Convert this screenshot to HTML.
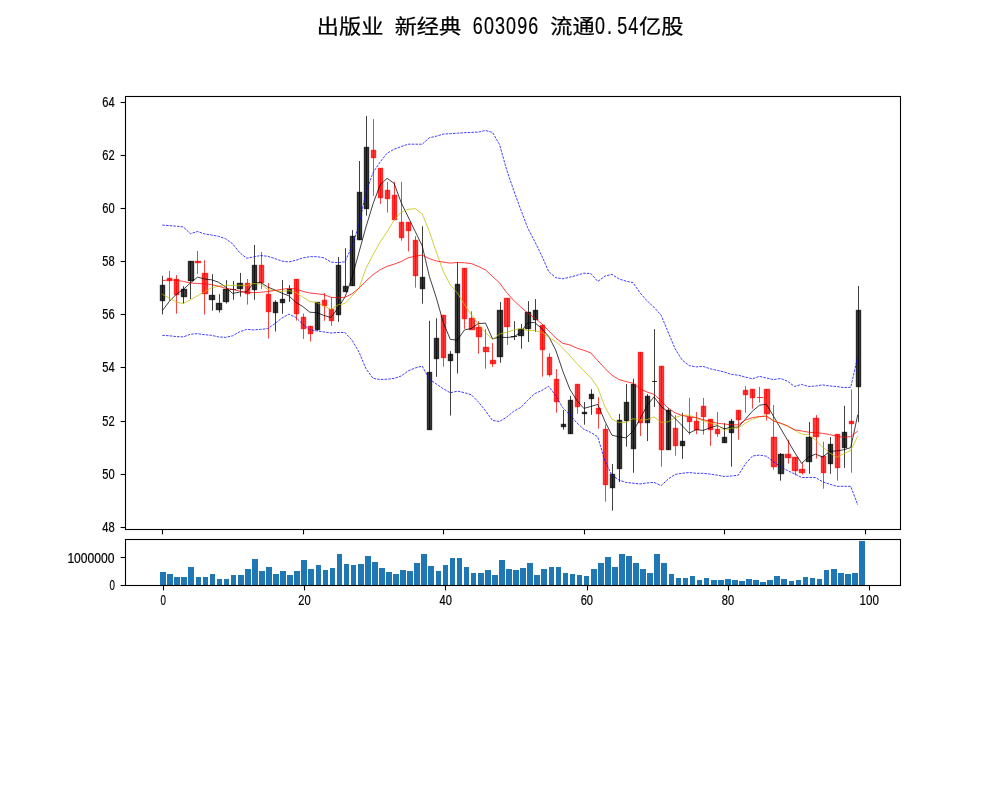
<!DOCTYPE html>
<html lang="zh"><head><meta charset="utf-8"><title>出版业 新经典 603096</title>
<style>html,body{margin:0;padding:0;background:#fff;}svg{display:block;}text{font-family:"Liberation Sans", "Noto Sans CJK SC", sans-serif;fill:#000;}</style>
</head><body>
<svg width="1000" height="800" viewBox="0 0 1000 800">
<rect x="0" y="0" width="1000" height="800" fill="#ffffff"/>
<g id="title">
<text transform="translate(316.87,34.20) scale(1,0.9)" x="0.00 22.22 44.44" y="0" font-size="22.22px" stroke="#000" stroke-width="0.25">出版业</text>
<text transform="translate(394.65,34.20) scale(1,0.9)" x="0.00 22.22 44.44" y="0" font-size="22.22px" stroke="#000" stroke-width="0.25">新经典</text>
<text transform="translate(472.22,33.50) scale(0.78,1)" x="0.73 14.97 29.22 43.46 57.71 71.95" y="0" font-size="23.0px" stroke="#000" stroke-width="0.2">603096</text>
<text transform="translate(550.20,34.20) scale(1,0.9)" x="0.00 22.22" y="0" font-size="22.22px" stroke="#000" stroke-width="0.25">流通</text>
<text transform="translate(594.44,33.50) scale(0.78,1)" x="0.73 16.17 29.22 43.46" y="0" font-size="23.0px" stroke="#000" stroke-width="0.2">0.54</text>
<text transform="translate(639.09,34.20) scale(1,0.9)" x="0.00 22.22" y="0" font-size="22.22px" stroke="#000" stroke-width="0.25">亿股</text>
</g>
<g id="bodies" stroke-width="1.39">
<rect x="160.5" y="285.5" width="4" height="15" fill="#000000" fill-opacity="0.75" stroke="#000000" stroke-opacity="0.75"/>
<rect x="167.5" y="278.5" width="4" height="2" fill="#ff0000" fill-opacity="0.75" stroke="#ff0000" stroke-opacity="0.75"/>
<rect x="174.5" y="279.5" width="4" height="15" fill="#ff0000" fill-opacity="0.75" stroke="#ff0000" stroke-opacity="0.75"/>
<rect x="181.5" y="289.5" width="5" height="7" fill="#000000" fill-opacity="0.75" stroke="#000000" stroke-opacity="0.75"/>
<rect x="188.5" y="261.5" width="5" height="19" fill="#000000" fill-opacity="0.75" stroke="#000000" stroke-opacity="0.75"/>
<rect x="195.5" y="261.5" width="5" height="1" fill="#ff0000" fill-opacity="0.75" stroke="#ff0000" stroke-opacity="0.75"/>
<rect x="202.5" y="273.5" width="5" height="20" fill="#ff0000" fill-opacity="0.75" stroke="#ff0000" stroke-opacity="0.75"/>
<rect x="209.5" y="295.5" width="5" height="4" fill="#000000" fill-opacity="0.75" stroke="#000000" stroke-opacity="0.75"/>
<rect x="216.5" y="303.5" width="5" height="6" fill="#000000" fill-opacity="0.75" stroke="#000000" stroke-opacity="0.75"/>
<rect x="223.5" y="289.5" width="5" height="12" fill="#000000" fill-opacity="0.75" stroke="#000000" stroke-opacity="0.75"/>
<line x1="230" y1="289.5" x2="236" y2="289.5" stroke="#000000" stroke-width="1" stroke-opacity="0.8"/>
<rect x="237.5" y="283.5" width="5" height="5" fill="#000000" fill-opacity="0.75" stroke="#000000" stroke-opacity="0.75"/>
<rect x="245.5" y="283.5" width="4" height="10" fill="#ff0000" fill-opacity="0.75" stroke="#ff0000" stroke-opacity="0.75"/>
<rect x="252.5" y="265.5" width="4" height="24" fill="#000000" fill-opacity="0.75" stroke="#000000" stroke-opacity="0.75"/>
<rect x="259.5" y="265.5" width="4" height="17" fill="#ff0000" fill-opacity="0.75" stroke="#ff0000" stroke-opacity="0.75"/>
<rect x="266.5" y="294.5" width="4" height="17" fill="#ff0000" fill-opacity="0.75" stroke="#ff0000" stroke-opacity="0.75"/>
<rect x="273.5" y="302.5" width="4" height="10" fill="#000000" fill-opacity="0.75" stroke="#000000" stroke-opacity="0.75"/>
<rect x="280.5" y="299.5" width="4" height="3" fill="#000000" fill-opacity="0.75" stroke="#000000" stroke-opacity="0.75"/>
<rect x="287.5" y="289.5" width="4" height="4" fill="#000000" fill-opacity="0.75" stroke="#000000" stroke-opacity="0.75"/>
<rect x="294.5" y="279.5" width="4" height="34" fill="#ff0000" fill-opacity="0.75" stroke="#ff0000" stroke-opacity="0.75"/>
<rect x="301.5" y="317.5" width="4" height="11" fill="#ff0000" fill-opacity="0.75" stroke="#ff0000" stroke-opacity="0.75"/>
<rect x="308.5" y="326.5" width="4" height="7" fill="#ff0000" fill-opacity="0.75" stroke="#ff0000" stroke-opacity="0.75"/>
<rect x="315.5" y="302.5" width="4" height="27" fill="#000000" fill-opacity="0.75" stroke="#000000" stroke-opacity="0.75"/>
<rect x="322.5" y="300.5" width="4" height="5" fill="#ff0000" fill-opacity="0.75" stroke="#ff0000" stroke-opacity="0.75"/>
<rect x="329.5" y="309.5" width="4" height="11" fill="#ff0000" fill-opacity="0.75" stroke="#ff0000" stroke-opacity="0.75"/>
<rect x="336.5" y="265.5" width="4" height="49" fill="#000000" fill-opacity="0.75" stroke="#000000" stroke-opacity="0.75"/>
<rect x="343.5" y="286.5" width="4" height="5" fill="#000000" fill-opacity="0.75" stroke="#000000" stroke-opacity="0.75"/>
<rect x="350.5" y="236.5" width="4" height="49" fill="#000000" fill-opacity="0.75" stroke="#000000" stroke-opacity="0.75"/>
<rect x="357.5" y="192.5" width="4" height="47" fill="#000000" fill-opacity="0.75" stroke="#000000" stroke-opacity="0.75"/>
<rect x="364.5" y="147.5" width="4" height="61" fill="#000000" fill-opacity="0.75" stroke="#000000" stroke-opacity="0.75"/>
<rect x="371.5" y="150.5" width="4" height="7" fill="#ff0000" fill-opacity="0.75" stroke="#ff0000" stroke-opacity="0.75"/>
<rect x="378.5" y="168.5" width="4" height="29" fill="#ff0000" fill-opacity="0.75" stroke="#ff0000" stroke-opacity="0.75"/>
<rect x="385.5" y="190.5" width="4" height="8" fill="#ff0000" fill-opacity="0.75" stroke="#ff0000" stroke-opacity="0.75"/>
<rect x="392.5" y="195.5" width="4" height="24" fill="#ff0000" fill-opacity="0.75" stroke="#ff0000" stroke-opacity="0.75"/>
<rect x="399.5" y="222.5" width="4" height="15" fill="#ff0000" fill-opacity="0.75" stroke="#ff0000" stroke-opacity="0.75"/>
<rect x="406.5" y="222.5" width="4" height="8" fill="#ff0000" fill-opacity="0.75" stroke="#ff0000" stroke-opacity="0.75"/>
<rect x="413.5" y="240.5" width="4" height="35" fill="#ff0000" fill-opacity="0.75" stroke="#ff0000" stroke-opacity="0.75"/>
<rect x="420.5" y="277.5" width="4" height="11" fill="#000000" fill-opacity="0.75" stroke="#000000" stroke-opacity="0.75"/>
<rect x="427.5" y="372.5" width="4" height="57" fill="#000000" fill-opacity="0.75" stroke="#000000" stroke-opacity="0.75"/>
<rect x="434.5" y="338.5" width="4" height="20" fill="#000000" fill-opacity="0.75" stroke="#000000" stroke-opacity="0.75"/>
<rect x="441.5" y="315.5" width="4" height="42" fill="#ff0000" fill-opacity="0.75" stroke="#ff0000" stroke-opacity="0.75"/>
<rect x="448.5" y="354.5" width="4" height="6" fill="#000000" fill-opacity="0.75" stroke="#000000" stroke-opacity="0.75"/>
<rect x="455.5" y="284.5" width="4" height="68" fill="#000000" fill-opacity="0.75" stroke="#000000" stroke-opacity="0.75"/>
<rect x="462.5" y="268.5" width="4" height="50" fill="#ff0000" fill-opacity="0.75" stroke="#ff0000" stroke-opacity="0.75"/>
<rect x="469.5" y="318.5" width="5" height="11" fill="#ff0000" fill-opacity="0.75" stroke="#ff0000" stroke-opacity="0.75"/>
<rect x="476.5" y="327.5" width="5" height="9" fill="#ff0000" fill-opacity="0.75" stroke="#ff0000" stroke-opacity="0.75"/>
<rect x="483.5" y="347.5" width="5" height="4" fill="#ff0000" fill-opacity="0.75" stroke="#ff0000" stroke-opacity="0.75"/>
<rect x="490.5" y="360.5" width="5" height="3" fill="#ff0000" fill-opacity="0.75" stroke="#ff0000" stroke-opacity="0.75"/>
<rect x="497.5" y="310.5" width="5" height="46" fill="#000000" fill-opacity="0.75" stroke="#000000" stroke-opacity="0.75"/>
<rect x="504.5" y="298.5" width="5" height="28" fill="#ff0000" fill-opacity="0.75" stroke="#ff0000" stroke-opacity="0.75"/>
<line x1="511" y1="336.5" x2="517" y2="336.5" stroke="#000000" stroke-width="1" stroke-opacity="0.8"/>
<rect x="518.5" y="329.5" width="5" height="6" fill="#000000" fill-opacity="0.75" stroke="#000000" stroke-opacity="0.75"/>
<rect x="525.5" y="312.5" width="5" height="16" fill="#000000" fill-opacity="0.75" stroke="#000000" stroke-opacity="0.75"/>
<rect x="533.5" y="310.5" width="4" height="9" fill="#000000" fill-opacity="0.75" stroke="#000000" stroke-opacity="0.75"/>
<rect x="540.5" y="325.5" width="4" height="24" fill="#ff0000" fill-opacity="0.75" stroke="#ff0000" stroke-opacity="0.75"/>
<rect x="547.5" y="357.5" width="4" height="17" fill="#ff0000" fill-opacity="0.75" stroke="#ff0000" stroke-opacity="0.75"/>
<rect x="554.5" y="379.5" width="4" height="22" fill="#ff0000" fill-opacity="0.75" stroke="#ff0000" stroke-opacity="0.75"/>
<rect x="561.5" y="424.5" width="4" height="2" fill="#000000" fill-opacity="0.75" stroke="#000000" stroke-opacity="0.75"/>
<rect x="568.5" y="400.5" width="4" height="33" fill="#000000" fill-opacity="0.75" stroke="#000000" stroke-opacity="0.75"/>
<rect x="575.5" y="384.5" width="4" height="22" fill="#ff0000" fill-opacity="0.75" stroke="#ff0000" stroke-opacity="0.75"/>
<rect x="582.5" y="412.5" width="4" height="1" fill="#000000" fill-opacity="0.75" stroke="#000000" stroke-opacity="0.75"/>
<rect x="589.5" y="394.5" width="4" height="4" fill="#000000" fill-opacity="0.75" stroke="#000000" stroke-opacity="0.75"/>
<rect x="596.5" y="408.5" width="4" height="5" fill="#ff0000" fill-opacity="0.75" stroke="#ff0000" stroke-opacity="0.75"/>
<rect x="603.5" y="429.5" width="4" height="55" fill="#ff0000" fill-opacity="0.75" stroke="#ff0000" stroke-opacity="0.75"/>
<rect x="610.5" y="474.5" width="4" height="13" fill="#000000" fill-opacity="0.75" stroke="#000000" stroke-opacity="0.75"/>
<rect x="617.5" y="420.5" width="4" height="48" fill="#000000" fill-opacity="0.75" stroke="#000000" stroke-opacity="0.75"/>
<rect x="624.5" y="402.5" width="4" height="18" fill="#000000" fill-opacity="0.75" stroke="#000000" stroke-opacity="0.75"/>
<rect x="631.5" y="384.5" width="4" height="64" fill="#000000" fill-opacity="0.75" stroke="#000000" stroke-opacity="0.75"/>
<rect x="638.5" y="352.5" width="4" height="70" fill="#ff0000" fill-opacity="0.75" stroke="#ff0000" stroke-opacity="0.75"/>
<rect x="645.5" y="396.5" width="4" height="26" fill="#000000" fill-opacity="0.75" stroke="#000000" stroke-opacity="0.75"/>
<line x1="652" y1="381.5" x2="657" y2="381.5" stroke="#000000" stroke-width="1" stroke-opacity="0.8"/>
<rect x="659.5" y="366.5" width="4" height="83" fill="#ff0000" fill-opacity="0.75" stroke="#ff0000" stroke-opacity="0.75"/>
<rect x="666.5" y="410.5" width="4" height="39" fill="#000000" fill-opacity="0.75" stroke="#000000" stroke-opacity="0.75"/>
<rect x="673.5" y="428.5" width="4" height="17" fill="#ff0000" fill-opacity="0.75" stroke="#ff0000" stroke-opacity="0.75"/>
<rect x="680.5" y="441.5" width="4" height="4" fill="#000000" fill-opacity="0.75" stroke="#000000" stroke-opacity="0.75"/>
<rect x="687.5" y="417.5" width="4" height="4" fill="#ff0000" fill-opacity="0.75" stroke="#ff0000" stroke-opacity="0.75"/>
<rect x="694.5" y="421.5" width="4" height="8" fill="#ff0000" fill-opacity="0.75" stroke="#ff0000" stroke-opacity="0.75"/>
<rect x="701.5" y="406.5" width="4" height="10" fill="#ff0000" fill-opacity="0.75" stroke="#ff0000" stroke-opacity="0.75"/>
<rect x="708.5" y="419.5" width="4" height="10" fill="#ff0000" fill-opacity="0.75" stroke="#ff0000" stroke-opacity="0.75"/>
<rect x="715.5" y="429.5" width="4" height="4" fill="#ff0000" fill-opacity="0.75" stroke="#ff0000" stroke-opacity="0.75"/>
<rect x="722.5" y="437.5" width="4" height="5" fill="#000000" fill-opacity="0.75" stroke="#000000" stroke-opacity="0.75"/>
<rect x="729.5" y="421.5" width="4" height="11" fill="#000000" fill-opacity="0.75" stroke="#000000" stroke-opacity="0.75"/>
<rect x="736.5" y="410.5" width="4" height="9" fill="#ff0000" fill-opacity="0.75" stroke="#ff0000" stroke-opacity="0.75"/>
<rect x="743.5" y="390.5" width="4" height="4" fill="#ff0000" fill-opacity="0.75" stroke="#ff0000" stroke-opacity="0.75"/>
<rect x="750.5" y="389.5" width="4" height="8" fill="#ff0000" fill-opacity="0.75" stroke="#ff0000" stroke-opacity="0.75"/>
<line x1="757" y1="397.5" x2="763" y2="397.5" stroke="#ff0000" stroke-width="1" stroke-opacity="0.8"/>
<rect x="764.5" y="389.5" width="5" height="24" fill="#ff0000" fill-opacity="0.75" stroke="#ff0000" stroke-opacity="0.75"/>
<rect x="771.5" y="437.5" width="5" height="29" fill="#ff0000" fill-opacity="0.75" stroke="#ff0000" stroke-opacity="0.75"/>
<rect x="778.5" y="454.5" width="5" height="19" fill="#000000" fill-opacity="0.75" stroke="#000000" stroke-opacity="0.75"/>
<rect x="785.5" y="454.5" width="5" height="3" fill="#ff0000" fill-opacity="0.75" stroke="#ff0000" stroke-opacity="0.75"/>
<rect x="792.5" y="457.5" width="5" height="13" fill="#ff0000" fill-opacity="0.75" stroke="#ff0000" stroke-opacity="0.75"/>
<rect x="799.5" y="469.5" width="5" height="3" fill="#ff0000" fill-opacity="0.75" stroke="#ff0000" stroke-opacity="0.75"/>
<rect x="806.5" y="437.5" width="5" height="24" fill="#000000" fill-opacity="0.75" stroke="#000000" stroke-opacity="0.75"/>
<rect x="813.5" y="418.5" width="5" height="18" fill="#ff0000" fill-opacity="0.75" stroke="#ff0000" stroke-opacity="0.75"/>
<rect x="821.5" y="456.5" width="4" height="16" fill="#ff0000" fill-opacity="0.75" stroke="#ff0000" stroke-opacity="0.75"/>
<rect x="828.5" y="444.5" width="4" height="19" fill="#000000" fill-opacity="0.75" stroke="#000000" stroke-opacity="0.75"/>
<rect x="835.5" y="434.5" width="4" height="33" fill="#ff0000" fill-opacity="0.75" stroke="#ff0000" stroke-opacity="0.75"/>
<rect x="842.5" y="432.5" width="4" height="15" fill="#000000" fill-opacity="0.75" stroke="#000000" stroke-opacity="0.75"/>
<rect x="849.5" y="421.5" width="4" height="2" fill="#ff0000" fill-opacity="0.75" stroke="#ff0000" stroke-opacity="0.75"/>
<rect x="856.5" y="310.5" width="4" height="76" fill="#000000" fill-opacity="0.75" stroke="#000000" stroke-opacity="0.75"/>
</g>
<g id="wicks" stroke-width="0.75" fill="none">
<line x1="162.5" y1="275.8" x2="162.5" y2="314.5" stroke="#000"/>
<line x1="169.5" y1="271.0" x2="169.5" y2="300.9" stroke="#f00"/>
<line x1="176.5" y1="275.0" x2="176.5" y2="313.7" stroke="#f00"/>
<line x1="183.5" y1="286.2" x2="183.5" y2="303.5" stroke="#000"/>
<line x1="190.5" y1="261.1" x2="190.5" y2="299.0" stroke="#000"/>
<line x1="197.5" y1="251.0" x2="197.5" y2="273.9" stroke="#f00"/>
<line x1="204.5" y1="260.1" x2="204.5" y2="314.5" stroke="#f00"/>
<line x1="212.5" y1="274.2" x2="212.5" y2="310.7" stroke="#000"/>
<line x1="219.5" y1="294.2" x2="219.5" y2="312.6" stroke="#000"/>
<line x1="226.5" y1="280.1" x2="226.5" y2="303.5" stroke="#000"/>
<line x1="233.5" y1="280.9" x2="233.5" y2="299.8" stroke="#000"/>
<line x1="240.5" y1="272.9" x2="240.5" y2="296.6" stroke="#000"/>
<line x1="247.5" y1="279.0" x2="247.5" y2="304.6" stroke="#f00"/>
<line x1="254.5" y1="244.9" x2="254.5" y2="299.8" stroke="#000"/>
<line x1="261.5" y1="252.1" x2="261.5" y2="288.9" stroke="#f00"/>
<line x1="268.5" y1="283.0" x2="268.5" y2="338.5" stroke="#f00"/>
<line x1="275.5" y1="300.3" x2="275.5" y2="331.5" stroke="#000"/>
<line x1="282.5" y1="280.1" x2="282.5" y2="313.7" stroke="#000"/>
<line x1="289.5" y1="285.1" x2="289.5" y2="301.9" stroke="#000"/>
<line x1="296.5" y1="279.0" x2="296.5" y2="320.6" stroke="#f00"/>
<line x1="303.5" y1="313.5" x2="303.5" y2="338.9" stroke="#f00"/>
<line x1="310.5" y1="325.8" x2="310.5" y2="341.5" stroke="#f00"/>
<line x1="317.5" y1="302.3" x2="317.5" y2="330.6" stroke="#000"/>
<line x1="324.5" y1="293.0" x2="324.5" y2="320.7" stroke="#f00"/>
<line x1="331.5" y1="297.3" x2="331.5" y2="325.8" stroke="#f00"/>
<line x1="338.5" y1="257.0" x2="338.5" y2="321.8" stroke="#000"/>
<line x1="345.5" y1="248.2" x2="345.5" y2="291.4" stroke="#000"/>
<line x1="352.5" y1="230.1" x2="352.5" y2="285.8" stroke="#000"/>
<line x1="359.5" y1="161.0" x2="359.5" y2="240.2" stroke="#000"/>
<line x1="366.5" y1="115.9" x2="366.5" y2="215.7" stroke="#000"/>
<line x1="373.5" y1="119.1" x2="373.5" y2="195.9" stroke="#f00"/>
<line x1="380.5" y1="168.2" x2="380.5" y2="203.9" stroke="#f00"/>
<line x1="387.5" y1="181.8" x2="387.5" y2="212.5" stroke="#f00"/>
<line x1="394.5" y1="181.8" x2="394.5" y2="220.2" stroke="#f00"/>
<line x1="401.5" y1="181.8" x2="401.5" y2="240.7" stroke="#f00"/>
<line x1="408.5" y1="222.1" x2="408.5" y2="251.4" stroke="#f00"/>
<line x1="415.5" y1="236.2" x2="415.5" y2="287.7" stroke="#f00"/>
<line x1="422.5" y1="226.3" x2="422.5" y2="303.7" stroke="#000"/>
<line x1="429.5" y1="320.8" x2="429.5" y2="429.6" stroke="#000"/>
<line x1="436.5" y1="318.3" x2="436.5" y2="376.8" stroke="#000"/>
<line x1="443.5" y1="315.4" x2="443.5" y2="366.7" stroke="#f00"/>
<line x1="450.5" y1="351.1" x2="450.5" y2="415.6" stroke="#000"/>
<line x1="457.5" y1="262.0" x2="457.5" y2="373.5" stroke="#000"/>
<line x1="464.5" y1="268.1" x2="464.5" y2="328.9" stroke="#f00"/>
<line x1="471.5" y1="311.3" x2="471.5" y2="330.0" stroke="#f00"/>
<line x1="478.5" y1="321.2" x2="478.5" y2="353.7" stroke="#f00"/>
<line x1="485.5" y1="329.2" x2="485.5" y2="368.7" stroke="#f00"/>
<line x1="492.5" y1="343.1" x2="492.5" y2="366.8" stroke="#f00"/>
<line x1="500.5" y1="302.0" x2="500.5" y2="362.8" stroke="#000"/>
<line x1="507.5" y1="298.0" x2="507.5" y2="344.9" stroke="#f00"/>
<line x1="514.5" y1="321.2" x2="514.5" y2="340.1" stroke="#000"/>
<line x1="521.5" y1="324.1" x2="521.5" y2="348.7" stroke="#000"/>
<line x1="528.5" y1="301.2" x2="528.5" y2="342.0" stroke="#000"/>
<line x1="535.5" y1="299.1" x2="535.5" y2="331.9" stroke="#000"/>
<line x1="542.5" y1="324.4" x2="542.5" y2="376.7" stroke="#f00"/>
<line x1="549.5" y1="353.2" x2="549.5" y2="376.7" stroke="#f00"/>
<line x1="556.5" y1="369.2" x2="556.5" y2="412.7" stroke="#f00"/>
<line x1="563.5" y1="410.0" x2="563.5" y2="429.7" stroke="#000"/>
<line x1="570.5" y1="395.9" x2="570.5" y2="433.7" stroke="#000"/>
<line x1="577.5" y1="384.1" x2="577.5" y2="413.7" stroke="#f00"/>
<line x1="584.5" y1="402.0" x2="584.5" y2="424.7" stroke="#000"/>
<line x1="591.5" y1="389.2" x2="591.5" y2="414.8" stroke="#000"/>
<line x1="598.5" y1="397.2" x2="598.5" y2="428.7" stroke="#f00"/>
<line x1="605.5" y1="424.5" x2="605.5" y2="501.6" stroke="#f00"/>
<line x1="612.5" y1="464.0" x2="612.5" y2="510.7" stroke="#000"/>
<line x1="619.5" y1="413.9" x2="619.5" y2="482.1" stroke="#000"/>
<line x1="626.5" y1="384.0" x2="626.5" y2="446.7" stroke="#000"/>
<line x1="633.5" y1="378.7" x2="633.5" y2="472.8" stroke="#000"/>
<line x1="640.5" y1="352.0" x2="640.5" y2="436.0" stroke="#f00"/>
<line x1="647.5" y1="394.1" x2="647.5" y2="441.1" stroke="#000"/>
<line x1="654.5" y1="329.1" x2="654.5" y2="406.9" stroke="#000"/>
<line x1="661.5" y1="365.9" x2="661.5" y2="466.7" stroke="#f00"/>
<line x1="668.5" y1="408.0" x2="668.5" y2="449.6" stroke="#000"/>
<line x1="675.5" y1="415.2" x2="675.5" y2="455.7" stroke="#f00"/>
<line x1="682.5" y1="412.8" x2="682.5" y2="458.9" stroke="#000"/>
<line x1="689.5" y1="397.9" x2="689.5" y2="434.7" stroke="#f00"/>
<line x1="696.5" y1="412.0" x2="696.5" y2="434.1" stroke="#f00"/>
<line x1="703.5" y1="397.9" x2="703.5" y2="434.7" stroke="#f00"/>
<line x1="710.5" y1="418.9" x2="710.5" y2="445.9" stroke="#f00"/>
<line x1="717.5" y1="412.0" x2="717.5" y2="436.8" stroke="#f00"/>
<line x1="724.5" y1="423.2" x2="724.5" y2="442.7" stroke="#000"/>
<line x1="731.5" y1="418.9" x2="731.5" y2="466.7" stroke="#000"/>
<line x1="738.5" y1="410.1" x2="738.5" y2="439.7" stroke="#f00"/>
<line x1="745.5" y1="386.1" x2="745.5" y2="412.8" stroke="#f00"/>
<line x1="752.5" y1="389.5" x2="752.5" y2="408.7" stroke="#f00"/>
<line x1="759.5" y1="386.9" x2="759.5" y2="402.6" stroke="#f00"/>
<line x1="766.5" y1="389.0" x2="766.5" y2="420.5" stroke="#f00"/>
<line x1="773.5" y1="405.0" x2="773.5" y2="469.8" stroke="#f00"/>
<line x1="780.5" y1="453.0" x2="780.5" y2="480.7" stroke="#000"/>
<line x1="788.5" y1="439.7" x2="788.5" y2="463.7" stroke="#f00"/>
<line x1="795.5" y1="457.0" x2="795.5" y2="475.4" stroke="#f00"/>
<line x1="802.5" y1="462.6" x2="802.5" y2="474.6" stroke="#f00"/>
<line x1="809.5" y1="422.1" x2="809.5" y2="473.8" stroke="#000"/>
<line x1="816.5" y1="415.1" x2="816.5" y2="458.6" stroke="#f00"/>
<line x1="823.5" y1="441.8" x2="823.5" y2="488.7" stroke="#f00"/>
<line x1="830.5" y1="437.0" x2="830.5" y2="473.8" stroke="#000"/>
<line x1="837.5" y1="434.3" x2="837.5" y2="480.7" stroke="#f00"/>
<line x1="844.5" y1="405.8" x2="844.5" y2="467.9" stroke="#000"/>
<line x1="851.5" y1="389.5" x2="851.5" y2="472.7" stroke="#f00"/>
<line x1="858.5" y1="286.0" x2="858.5" y2="422.1" stroke="#000"/>
</g>
<g id="lines">
<polyline points="162.3,310.7 169.4,301.4 176.4,294.2 183.4,289.4 190.4,283.0 197.5,277.1 204.5,279.0 211.5,279.8 218.5,282.2 225.6,287.0 232.6,293.4 239.6,292.1 246.6,291.8 253.7,283.0 260.7,282.5 267.7,287.0 274.7,289.9 281.7,293.1 288.8,295.8 295.8,302.2 302.8,306.6 309.8,312.2 316.9,312.7 323.9,315.4 330.9,317.5 337.9,308.2 345.0,297.0 352.0,277.8 359.0,252.2 366.0,226.9 373.1,203.6 380.1,185.0 387.1,178.3 394.1,183.4 401.2,202.6 408.2,217.0 415.2,231.4 422.2,245.8 429.3,276.2 436.3,297.8 443.3,322.6 450.3,339.4 457.4,340.1 464.4,330.0 471.4,328.4 478.4,323.6 485.5,323.1 492.5,338.8 499.5,337.2 506.5,337.5 513.6,336.9 520.6,332.4 527.6,322.8 534.6,322.5 541.7,328.4 548.7,336.4 555.7,350.0 562.7,370.8 569.8,389.2 576.8,400.4 583.8,408.4 590.8,406.5 597.8,404.4 604.9,421.2 611.9,435.2 618.9,436.8 625.9,437.9 633.0,431.2 640.0,419.2 647.0,405.6 654.0,396.8 661.1,406.4 668.1,412.0 675.1,418.4 682.1,425.6 689.2,433.1 696.2,429.6 703.2,430.4 710.2,427.7 717.3,425.6 724.3,428.8 731.3,427.2 738.3,427.2 745.4,419.2 752.4,411.2 759.4,405.3 766.4,404.2 773.5,416.2 780.5,428.2 787.5,440.2 794.5,452.2 801.6,463.4 808.6,457.0 815.6,454.1 822.6,457.0 829.7,451.4 836.7,450.9 843.7,449.8 850.7,447.7 857.8,414.6" fill="none" stroke="#000000" stroke-width="0.75" stroke-linejoin="round" />
<polyline points="162.3,294.2 169.4,298.2 176.4,302.2 183.4,303.5 190.4,299.8 197.5,295.8 204.5,291.8 211.5,287.8 218.5,286.2 225.6,285.4 232.6,285.4 239.6,285.4 246.6,285.4 253.7,283.5 260.7,284.1 267.7,289.4 274.7,290.5 281.7,291.5 288.8,290.5 295.8,292.6 302.8,297.0 309.8,301.5 316.9,302.6 323.9,305.8 330.9,309.5 337.9,305.0 345.0,303.4 352.0,296.2 359.0,288.2 366.0,268.2 373.1,254.6 380.1,242.1 387.1,231.7 394.1,220.2 401.2,212.2 408.2,209.3 415.2,208.7 422.2,213.8 429.3,231.4 436.3,252.2 443.3,271.4 450.3,285.0 457.4,293.0 464.4,304.4 471.4,314.8 478.4,324.4 485.5,332.4 492.5,339.6 499.5,334.0 506.5,332.4 513.6,330.0 520.6,328.4 527.6,330.5 534.6,330.5 541.7,332.4 548.7,337.2 555.7,341.5 562.7,347.9 569.8,355.6 576.8,363.4 583.8,370.8 590.8,377.7 597.8,387.6 604.9,406.8 611.9,419.2 618.9,422.4 625.9,422.4 633.0,418.7 640.0,420.0 647.0,419.7 654.0,416.8 661.1,422.4 668.1,421.9 675.1,417.6 682.1,415.2 689.2,415.2 696.2,418.1 703.2,420.8 710.2,422.9 717.3,424.8 724.3,430.4 731.3,428.0 738.3,428.0 745.4,423.2 752.4,419.2 759.4,417.0 766.4,415.7 773.5,420.5 780.5,423.4 787.5,426.3 794.5,430.1 801.6,434.0 808.6,434.9 815.6,440.2 822.6,447.1 829.7,453.0 836.7,457.3 843.7,453.8 850.7,450.3 857.8,436.2" fill="none" stroke="#bfbf00" stroke-width="0.75" stroke-linejoin="round" />
<polyline points="162.3,280.6 169.4,279.8 176.4,280.3 183.4,281.4 190.4,283.0 197.5,283.5 204.5,283.8 211.5,284.6 218.5,286.2 225.6,288.3 232.6,289.4 239.6,291.0 246.6,292.6 253.7,292.6 260.7,292.3 267.7,291.5 274.7,290.5 281.7,289.4 288.8,288.3 295.8,288.9 302.8,291.4 309.8,293.0 316.9,293.8 323.9,294.6 330.9,297.3 337.9,297.8 345.0,297.3 352.0,293.8 359.0,288.2 366.0,281.0 373.1,274.6 380.1,269.8 387.1,266.3 394.1,264.2 401.2,261.5 408.2,257.8 415.2,256.2 422.2,255.1 429.3,258.6 436.3,261.0 443.3,262.1 450.3,263.1 457.4,262.5 464.4,262.8 471.4,263.6 478.4,266.5 485.5,270.0 492.5,276.4 499.5,282.8 506.5,292.4 513.6,300.4 520.6,306.8 527.6,312.9 534.6,318.0 541.7,323.6 548.7,330.8 555.7,338.0 562.7,343.3 569.8,344.9 576.8,348.1 583.8,350.3 590.8,352.9 597.8,360.7 604.9,368.4 611.9,375.2 618.9,379.5 625.9,381.6 633.0,383.2 640.0,388.8 647.0,392.0 654.0,394.4 661.1,400.8 668.1,408.0 675.1,412.8 682.1,415.5 689.2,416.8 696.2,417.6 703.2,419.7 710.2,421.3 717.3,423.2 724.3,424.0 731.3,424.8 738.3,424.8 745.4,420.0 752.4,417.6 759.4,416.5 766.4,416.2 773.5,421.0 780.5,423.1 787.5,425.8 794.5,429.8 801.6,430.9 808.6,432.2 815.6,432.7 822.6,433.3 829.7,434.6 836.7,436.2 843.7,437.3 850.7,436.5 857.8,431.1" fill="none" stroke="#ff0000" stroke-width="0.75" stroke-linejoin="round" />
<polyline points="162.3,225.1 169.4,225.6 176.4,226.2 183.4,227.0 190.4,233.7 197.5,231.5 204.5,233.9 211.5,235.0 218.5,236.3 225.6,238.7 232.6,243.8 239.6,252.6 246.6,258.2 253.7,256.9 260.7,255.5 267.7,256.3 274.7,258.5 281.7,261.1 288.8,261.9 295.8,260.3 302.8,257.9 309.8,256.7 316.9,256.7 323.9,257.8 330.9,262.1 337.9,262.6 345.0,261.8 352.0,246.1 359.0,224.7 366.0,192.2 373.1,172.5 380.1,162.0 387.1,153.2 394.1,149.2 401.2,146.6 408.2,144.2 415.2,144.2 422.2,144.2 429.3,137.8 436.3,136.2 443.3,134.1 450.3,133.7 457.4,133.2 464.4,132.7 471.4,132.4 478.4,132.1 485.5,130.5 492.5,132.4 499.5,144.4 506.5,169.2 513.6,190.0 520.6,209.2 527.6,227.6 534.6,241.2 541.7,255.6 548.7,271.6 555.7,277.7 562.7,278.8 569.8,277.2 576.8,275.3 583.8,273.2 590.8,273.5 597.8,281.5 604.9,276.1 611.9,274.4 618.9,278.9 625.9,281.1 633.0,282.7 640.0,292.8 647.0,300.8 654.0,307.2 661.1,315.2 668.1,332.0 675.1,348.8 682.1,360.0 689.2,365.6 696.2,366.9 703.2,366.4 710.2,368.8 717.3,370.4 724.3,372.0 731.3,374.4 738.3,375.2 745.4,377.1 752.4,378.8 759.4,376.4 766.4,378.0 773.5,379.6 780.5,378.5 787.5,381.2 794.5,386.5 801.6,384.4 808.6,386.5 815.6,386.0 822.6,384.9 829.7,386.0 836.7,386.5 843.7,387.6 850.7,387.3 857.8,356.4" fill="none" stroke="#0000ff" stroke-width="0.75" stroke-linejoin="round" stroke-dasharray="2.57 1.11"/>
<polyline points="162.3,335.3 169.4,335.8 176.4,336.6 183.4,336.9 190.4,334.2 197.5,333.7 204.5,334.7 211.5,335.3 218.5,336.9 225.6,337.4 232.6,335.8 239.6,331.8 246.6,329.4 253.7,329.9 260.7,329.4 267.7,328.6 274.7,323.8 281.7,318.2 288.8,314.2 295.8,317.4 302.8,324.2 309.8,329.8 316.9,330.9 323.9,331.9 330.9,333.0 337.9,332.5 345.0,332.5 352.0,340.2 359.0,352.0 366.0,368.8 373.1,378.4 380.1,379.5 387.1,379.2 394.1,378.4 401.2,376.0 408.2,370.9 415.2,368.0 422.2,366.1 429.3,379.2 436.3,384.0 443.3,388.8 450.3,392.8 457.4,391.1 464.4,392.7 471.4,394.8 478.4,402.0 485.5,410.8 492.5,420.4 499.5,421.5 506.5,417.2 513.6,411.3 520.6,407.6 527.6,400.4 534.6,393.7 541.7,390.5 548.7,386.3 555.7,395.6 562.7,407.6 569.8,414.8 576.8,422.8 583.8,429.2 590.8,432.4 597.8,436.9 604.9,460.8 611.9,475.2 618.9,480.0 625.9,482.4 633.0,483.2 640.0,484.0 647.0,482.9 654.0,482.4 661.1,485.6 668.1,479.2 675.1,474.4 682.1,473.3 689.2,472.5 696.2,473.3 703.2,473.3 710.2,474.1 717.3,475.2 724.3,476.5 731.3,476.0 738.3,475.2 745.4,464.0 752.4,456.0 759.4,455.1 766.4,456.2 773.5,461.8 780.5,466.6 787.5,470.6 794.5,473.8 801.6,477.5 808.6,477.5 815.6,477.5 822.6,481.8 829.7,484.2 836.7,486.3 843.7,486.3 850.7,486.3 857.8,505.0" fill="none" stroke="#0000ff" stroke-width="0.75" stroke-linejoin="round" stroke-dasharray="2.57 1.11"/>
</g>
<g id="volume" fill="#1f77b4">
<rect x="160" y="572" width="6" height="14"/>
<rect x="167" y="574" width="6" height="12"/>
<rect x="174" y="577" width="6" height="9"/>
<rect x="181" y="577" width="6" height="9"/>
<rect x="188" y="567" width="6" height="19"/>
<rect x="196" y="577" width="5" height="9"/>
<rect x="203" y="577" width="5" height="9"/>
<rect x="210" y="574" width="5" height="12"/>
<rect x="217" y="579" width="5" height="7"/>
<rect x="224" y="579" width="5" height="7"/>
<rect x="231" y="575" width="5" height="11"/>
<rect x="238" y="575" width="6" height="11"/>
<rect x="245" y="569" width="6" height="17"/>
<rect x="252" y="559" width="6" height="27"/>
<rect x="259" y="571" width="6" height="15"/>
<rect x="266" y="567" width="6" height="19"/>
<rect x="273" y="574" width="6" height="12"/>
<rect x="280" y="571" width="6" height="15"/>
<rect x="287" y="575" width="6" height="11"/>
<rect x="294" y="571" width="6" height="15"/>
<rect x="301" y="560" width="6" height="26"/>
<rect x="308" y="569" width="6" height="17"/>
<rect x="316" y="565" width="5" height="21"/>
<rect x="323" y="570" width="5" height="16"/>
<rect x="330" y="568" width="5" height="18"/>
<rect x="337" y="554" width="5" height="32"/>
<rect x="344" y="564" width="5" height="22"/>
<rect x="351" y="565" width="5" height="21"/>
<rect x="358" y="564" width="6" height="22"/>
<rect x="365" y="556" width="6" height="30"/>
<rect x="372" y="562" width="6" height="24"/>
<rect x="379" y="568" width="6" height="18"/>
<rect x="386" y="572" width="6" height="14"/>
<rect x="393" y="574" width="6" height="12"/>
<rect x="400" y="570" width="6" height="16"/>
<rect x="407" y="571" width="6" height="15"/>
<rect x="414" y="563" width="6" height="23"/>
<rect x="421" y="554" width="6" height="32"/>
<rect x="428" y="566" width="6" height="20"/>
<rect x="436" y="571" width="5" height="15"/>
<rect x="443" y="565" width="5" height="21"/>
<rect x="450" y="558" width="5" height="28"/>
<rect x="457" y="558" width="5" height="28"/>
<rect x="464" y="567" width="5" height="19"/>
<rect x="471" y="573" width="5" height="13"/>
<rect x="478" y="573" width="6" height="13"/>
<rect x="485" y="570" width="6" height="16"/>
<rect x="492" y="575" width="6" height="11"/>
<rect x="499" y="560" width="6" height="26"/>
<rect x="506" y="569" width="6" height="17"/>
<rect x="513" y="570" width="6" height="16"/>
<rect x="520" y="568" width="6" height="18"/>
<rect x="527" y="563" width="6" height="23"/>
<rect x="534" y="575" width="6" height="11"/>
<rect x="541" y="569" width="6" height="17"/>
<rect x="549" y="567" width="5" height="19"/>
<rect x="556" y="567" width="5" height="19"/>
<rect x="563" y="573" width="5" height="13"/>
<rect x="570" y="574" width="5" height="12"/>
<rect x="577" y="575" width="5" height="11"/>
<rect x="584" y="576" width="5" height="10"/>
<rect x="591" y="569" width="6" height="17"/>
<rect x="598" y="563" width="6" height="23"/>
<rect x="605" y="557" width="6" height="29"/>
<rect x="612" y="567" width="6" height="19"/>
<rect x="619" y="554" width="6" height="32"/>
<rect x="626" y="556" width="6" height="30"/>
<rect x="633" y="563" width="6" height="23"/>
<rect x="640" y="569" width="6" height="17"/>
<rect x="647" y="573" width="6" height="13"/>
<rect x="654" y="554" width="6" height="32"/>
<rect x="661" y="563" width="6" height="23"/>
<rect x="669" y="574" width="5" height="12"/>
<rect x="676" y="578" width="5" height="8"/>
<rect x="683" y="578" width="5" height="8"/>
<rect x="690" y="576" width="5" height="10"/>
<rect x="697" y="580" width="5" height="6"/>
<rect x="704" y="578" width="5" height="8"/>
<rect x="711" y="580" width="6" height="6"/>
<rect x="718" y="580" width="6" height="6"/>
<rect x="725" y="579" width="6" height="7"/>
<rect x="732" y="580" width="6" height="6"/>
<rect x="739" y="581" width="6" height="5"/>
<rect x="746" y="579" width="6" height="7"/>
<rect x="753" y="580" width="6" height="6"/>
<rect x="760" y="582" width="6" height="4"/>
<rect x="767" y="580" width="6" height="6"/>
<rect x="774" y="576" width="6" height="10"/>
<rect x="781" y="579" width="6" height="7"/>
<rect x="789" y="581" width="5" height="5"/>
<rect x="796" y="580" width="5" height="6"/>
<rect x="803" y="577" width="5" height="9"/>
<rect x="810" y="578" width="5" height="8"/>
<rect x="817" y="579" width="5" height="7"/>
<rect x="824" y="570" width="5" height="16"/>
<rect x="831" y="569" width="6" height="17"/>
<rect x="838" y="573" width="6" height="13"/>
<rect x="845" y="574" width="6" height="12"/>
<rect x="852" y="573" width="6" height="13"/>
<rect x="859" y="541" width="6" height="45"/>
</g>
<g id="spines" fill="none" stroke="#000" stroke-width="1.1">
<rect x="125.5" y="96.5" width="775.0" height="433.0"/>
<rect x="125.5" y="539.5" width="775.0" height="46.0"/>
</g>
<g id="ticks" stroke="#000" stroke-width="1.1">
<line x1="120.6" y1="527.5" x2="125.5" y2="527.5"/>
<line x1="120.6" y1="474.5" x2="125.5" y2="474.5"/>
<line x1="120.6" y1="421.5" x2="125.5" y2="421.5"/>
<line x1="120.6" y1="367.5" x2="125.5" y2="367.5"/>
<line x1="120.6" y1="314.5" x2="125.5" y2="314.5"/>
<line x1="120.6" y1="261.5" x2="125.5" y2="261.5"/>
<line x1="120.6" y1="208.5" x2="125.5" y2="208.5"/>
<line x1="120.6" y1="155.5" x2="125.5" y2="155.5"/>
<line x1="120.6" y1="102.5" x2="125.5" y2="102.5"/>
<line x1="162.5" y1="529.5" x2="162.5" y2="534.4"/>
<line x1="163.5" y1="585.5" x2="163.5" y2="590.4"/>
<line x1="303.5" y1="529.5" x2="303.5" y2="534.4"/>
<line x1="304.5" y1="585.5" x2="304.5" y2="590.4"/>
<line x1="443.5" y1="529.5" x2="443.5" y2="534.4"/>
<line x1="445.5" y1="585.5" x2="445.5" y2="590.4"/>
<line x1="584.5" y1="529.5" x2="584.5" y2="534.4"/>
<line x1="587.5" y1="585.5" x2="587.5" y2="590.4"/>
<line x1="724.5" y1="529.5" x2="724.5" y2="534.4"/>
<line x1="728.5" y1="585.5" x2="728.5" y2="590.4"/>
<line x1="865.5" y1="529.5" x2="865.5" y2="534.4"/>
<line x1="869.5" y1="585.5" x2="869.5" y2="590.4"/>
<line x1="120.6" y1="585.5" x2="125.5" y2="585.5"/>
<line x1="120.6" y1="557.5" x2="125.5" y2="557.5"/>
</g>
<g id="labels" stroke="#000" stroke-width="0.2">
<text x="102.31" y="531.70" font-size="14.2px" textLength="12.39" lengthAdjust="spacingAndGlyphs">48</text>
<text x="102.31" y="478.60" font-size="14.2px" textLength="12.39" lengthAdjust="spacingAndGlyphs">50</text>
<text x="102.31" y="425.50" font-size="14.2px" textLength="12.39" lengthAdjust="spacingAndGlyphs">52</text>
<text x="102.31" y="372.40" font-size="14.2px" textLength="12.39" lengthAdjust="spacingAndGlyphs">54</text>
<text x="102.31" y="319.30" font-size="14.2px" textLength="12.39" lengthAdjust="spacingAndGlyphs">56</text>
<text x="102.31" y="266.20" font-size="14.2px" textLength="12.39" lengthAdjust="spacingAndGlyphs">58</text>
<text x="102.31" y="213.10" font-size="14.2px" textLength="12.39" lengthAdjust="spacingAndGlyphs">60</text>
<text x="102.31" y="160.00" font-size="14.2px" textLength="12.39" lengthAdjust="spacingAndGlyphs">62</text>
<text x="102.31" y="106.90" font-size="14.2px" textLength="12.39" lengthAdjust="spacingAndGlyphs">64</text>
<text x="67.39" y="562.60" font-size="14.2px" textLength="47.11" lengthAdjust="spacingAndGlyphs">1000000</text>
<text x="109.46" y="590.10" font-size="14.2px" textLength="5.44" lengthAdjust="spacingAndGlyphs">0</text>
<text x="160.53" y="605.20" font-size="14.2px" textLength="5.44" lengthAdjust="spacingAndGlyphs">0</text>
<text x="298.25" y="605.20" font-size="14.2px" textLength="12.39" lengthAdjust="spacingAndGlyphs">20</text>
<text x="439.44" y="605.20" font-size="14.2px" textLength="12.39" lengthAdjust="spacingAndGlyphs">40</text>
<text x="580.63" y="605.20" font-size="14.2px" textLength="12.39" lengthAdjust="spacingAndGlyphs">60</text>
<text x="721.82" y="605.20" font-size="14.2px" textLength="12.39" lengthAdjust="spacingAndGlyphs">80</text>
<text x="859.53" y="605.20" font-size="14.2px" textLength="19.33" lengthAdjust="spacingAndGlyphs">100</text>
</g>
</svg>
</body></html>
